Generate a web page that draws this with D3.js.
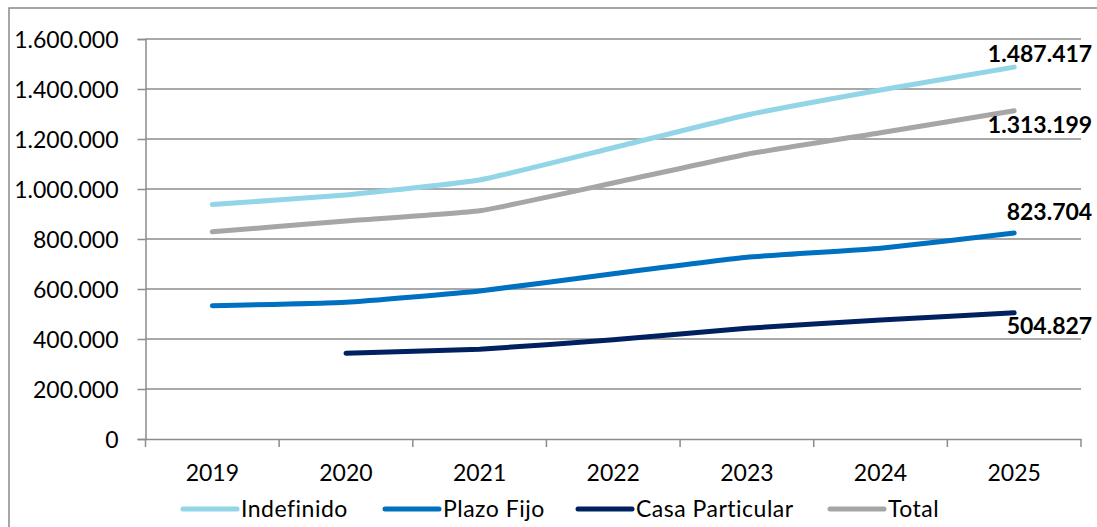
<!DOCTYPE html>
<html>
<head>
<meta charset="utf-8">
<script src="https://cdn.jsdelivr.net/npm/d3@7/dist/d3.min.js"></script>
<style>
  html, body { margin: 0; padding: 0; background: #fff; }
  svg { display: block; }
  text { font-family: Lato, "Open Sans", sans-serif; font-variant-ligatures: none; font-feature-settings: "liga" 0; }
</style>
</head>
<body>
<svg id="chart" width="1097" height="527"></svg>
<script>
const years = ["2019", "2020", "2021", "2022", "2023", "2024", "2025"];
const indefinido = [938000, 976000, 1036000, 1165000, 1296000, 1396000, 1487417];
const plazoFijo = [533000, 547000, 592000, 661000, 727000, 763000, 823704];
const casaParticular = [null, 343000, 359000, 397000, 443000, 476000, 504827];
const total = [829000, 872000, 913000, 1024000, 1139000, 1225000, 1313199];
const yTicks = [0, 200000, 400000, 600000, 800000, 1000000, 1200000, 1400000, 1600000];
const seriesNames = ["Indefinido", "Plazo Fijo", "Casa Particular", "Total"];
const seriesColors = ["#92D5E6", "#0070C0", "#002060", "#A6A6A6"];

const seriesValues = [indefinido, plazoFijo, casaParticular, total];
const series = seriesNames.map((name, i) => ({
  name, color: seriesColors[i],
  values: years.map((y, j) => ({ year: y, v: seriesValues[i][j] }))
}));

const locale = d3.formatLocale({ decimal: ",", thousands: ".", grouping: [3], currency: ["", ""] });
const fmt = locale.format(",d");

const svg = d3.select("#chart");
const W = 1097, H = 527;
const plot = { left: 145.5, right: 1081, top: 39, bottom: 439 };

svg.append("rect").attr("width", W).attr("height", H).attr("fill", "#fff");
svg.append("path")
  .attr("d", `M9,${H + 5} L9,8 L${W + 5},8`)
  .attr("fill", "none").attr("stroke", "#898989").attr("stroke-width", 1.5);

const x = d3.scaleBand().domain(years).range([plot.left, plot.right]).padding(0);
const y = d3.scaleLinear().domain([0, 1600000]).range([plot.bottom, plot.top]);

svg.append("g").selectAll("line").data(yTicks.filter(d => d > 0)).join("line")
  .attr("x1", plot.left).attr("x2", plot.right)
  .attr("y1", d => y(d)).attr("y2", d => y(d))
  .attr("stroke", "#8c8c8c").attr("stroke-width", 1.5);

const yAxis = svg.append("g").attr("transform", `translate(${plot.left},0)`)
  .call(d3.axisLeft(y).tickValues(yTicks).tickFormat(fmt).tickSize(8).tickPadding(19));
yAxis.select(".domain").attr("stroke", "#8c8c8c").attr("stroke-width", 1.5);
yAxis.selectAll(".tick line").attr("stroke", "#8c8c8c").attr("stroke-width", 1.5);
yAxis.selectAll(".tick text").attr("font-size", 23).attr("fill", "#000")
  .attr("font-family", "Lato, sans-serif").attr("dy", "0.36em");

const xAxis = svg.append("g").attr("transform", `translate(0,${plot.bottom})`)
  .call(d3.axisBottom(x).tickSize(0).tickPadding(26));
xAxis.select(".domain").attr("stroke", "#8c8c8c").attr("stroke-width", 1.5);
xAxis.selectAll(".tick text").attr("font-size", 23).attr("fill", "#000")
  .attr("font-family", "Lato, sans-serif");
const bounds = years.map(d => x(d)).concat([x(years[years.length - 1]) + x.bandwidth()]);
xAxis.append("g").selectAll("line").data(bounds).join("line")
  .attr("x1", d => d).attr("x2", d => d).attr("y1", 0).attr("y2", 8)
  .attr("stroke", "#8c8c8c").attr("stroke-width", 1.5);

const line = d3.line()
  .x(d => x(d.year) + x.bandwidth() / 2)
  .y(d => y(d.v))
  .curve(d3.curveCardinal.tension(0.6));

svg.append("g").selectAll("path").data(series).join("path")
  .attr("d", d => line(d.values.filter(p => p.v !== null)))
  .attr("fill", "none").attr("stroke", d => d.color)
  .attr("stroke-width", 5).attr("stroke-linecap", "round").attr("stroke-linejoin", "round");

const labelDy = { "Indefinido": -5, "Plazo Fijo": -13, "Casa Particular": 21, "Total": 22 };
svg.append("g").selectAll("text").data(series).join("text")
  .attr("x", d => x(years[years.length - 1]) + x.bandwidth() / 2 + 78)
  .attr("y", d => y(d.values[d.values.length - 1].v) + labelDy[d.name])
  .attr("text-anchor", "end").attr("font-size", 23).attr("font-weight", "bold")
  .attr("fill", "#000")
  .text(d => fmt(d.values[d.values.length - 1].v));

const legendX = [183, 385, 578, 830];
const lg = svg.append("g").selectAll("g").data(series).join("g")
  .attr("transform", (d, i) => `translate(${legendX[i]},509)`);
lg.append("line").attr("x1", 0).attr("x2", 54).attr("y1", 0).attr("y2", 0)
  .attr("stroke", d => d.color).attr("stroke-width", 5).attr("stroke-linecap", "round");
lg.append("text").attr("x", 58).attr("y", 0).attr("dy", "0.36em")
  .attr("font-size", 23).attr("letter-spacing", 0.5).attr("fill", "#000").text(d => d.name);
</script>
</body>
</html>
